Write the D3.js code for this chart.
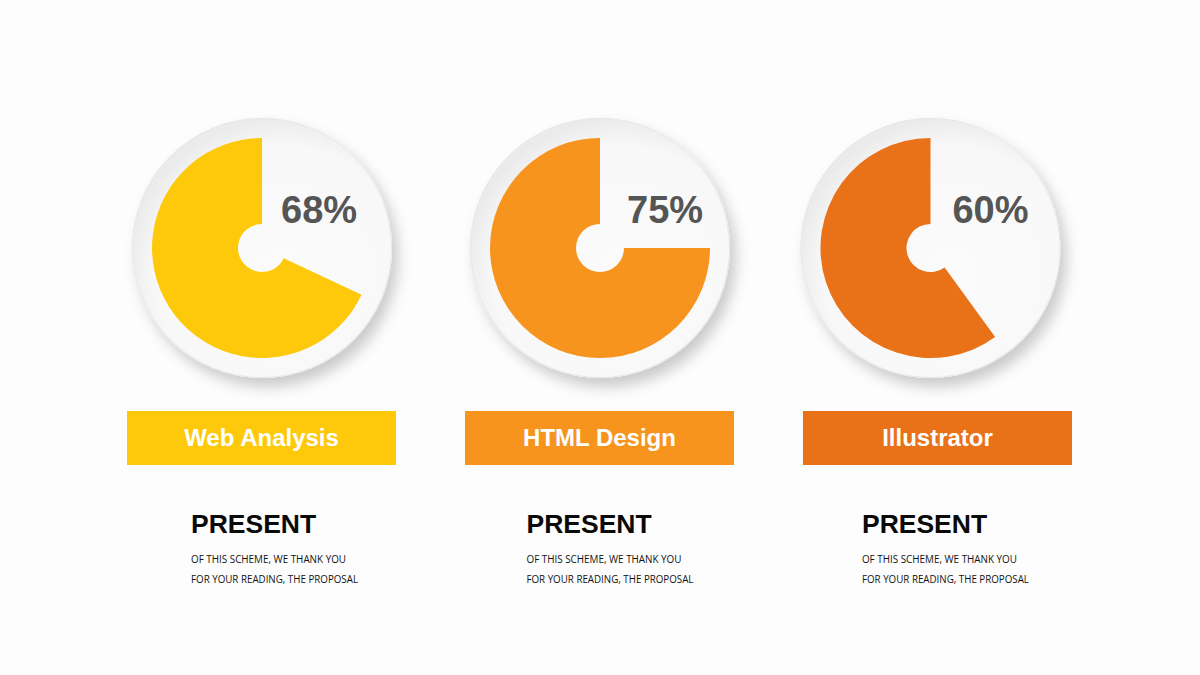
<!DOCTYPE html>
<html>
<head>
<meta charset="utf-8">
<script src="https://cdn.jsdelivr.net/npm/d3@7"></script>
<style>
html,body{margin:0;padding:0;background:#fdfdfd;}
svg{display:block;}
</style>
</head>
<body>
<svg id="chart" width="1200" height="675"></svg>
<script>
// ---- data ----
const categories = ["Web Analysis", "HTML Design", "Illustrator"];
const values = [68, 75, 60];
const colors = ["#FFC90B", "#F7941E", "#E97118"];
const headings = ["PRESENT", "PRESENT", "PRESENT"];
const lines1 = ["OF THIS SCHEME, WE THANK YOU", "OF THIS SCHEME, WE THANK YOU", "OF THIS SCHEME, WE THANK YOU"];
const lines2 = ["FOR YOUR READING, THE PROPOSAL", "FOR YOUR READING, THE PROPOSAL", "FOR YOUR READING, THE PROPOSAL"];

// ---- layout ----
const W = 1200, H = 675;
const svg = d3.select("#chart");
svg.append("rect").attr("width", W).attr("height", H).attr("fill", "#fdfdfd");

const defs = svg.append("defs");
const f = defs.append("filter").attr("id", "shadow")
  .attr("x", "-30%").attr("y", "-30%").attr("width", "160%").attr("height", "160%");
f.append("feDropShadow").attr("dx", 6).attr("dy", 9).attr("stdDeviation", 7)
  .attr("flood-color", "#000").attr("flood-opacity", 0.2);

const rg = defs.append("radialGradient").attr("id", "disc")
  .attr("cx", "58%").attr("cy", "60%").attr("r", "60%");
rg.append("stop").attr("offset", "0%").attr("stop-color", "#fbfbfb");
rg.append("stop").attr("offset", "82%").attr("stop-color", "#f8f8f8");
rg.append("stop").attr("offset", "100%").attr("stop-color", "#ebebeb");

const band = d3.scaleBand().domain(categories).range([127, 1072]).paddingInner(0.204).paddingOuter(0);
const circleShift = [0.5, 0.5, -7];
const pctShift = [19, 27, 22];
const cy = 248;
const discR = 130, outerR = 110, innerR = 24;

const angle = d3.scaleLinear().domain([0, 100]).range([0, 2 * Math.PI]);
const arc = d3.arc().innerRadius(innerR).outerRadius(outerR);

const g = svg.selectAll("g.item").data(categories).join("g").attr("class", "item");

g.each(function (cat, i) {
  const sel = d3.select(this);
  const bx = band(cat);
  const cx = bx + band.bandwidth() / 2 + circleShift[i];

  // disc
  sel.append("circle").attr("cx", cx).attr("cy", cy).attr("r", discR)
    .attr("fill", "url(#disc)").attr("filter", "url(#shadow)");
  sel.append("circle").attr("cx", cx).attr("cy", cy).attr("r", discR - 0.5)
    .attr("fill", "none").attr("stroke", "#e8e8e8").attr("stroke-width", 1);

  // value arc (counter-clockwise from 12 o'clock)
  sel.append("path")
    .attr("transform", `translate(${cx},${cy})`)
    .attr("d", arc({ startAngle: angle(100) - angle(values[i]), endAngle: angle(100) }))
    .attr("fill", colors[i]);

  // percentage
  sel.append("text")
    .attr("x", cx + pctShift[i]).attr("y", cy - 25)
    .attr("font-family", "Liberation Sans, Arial, sans-serif")
    .attr("font-weight", "bold").attr("font-size", 38)
    .attr("fill", "#555555")
    .text(values[i] + "%");

  // label box
  sel.append("rect").attr("x", bx).attr("y", 411)
    .attr("width", band.bandwidth()).attr("height", 54)
    .attr("fill", colors[i]);
  sel.append("text")
    .attr("x", bx + band.bandwidth() / 2).attr("y", 446)
    .attr("text-anchor", "middle")
    .attr("font-family", "Liberation Sans, Arial, sans-serif")
    .attr("font-weight", "bold").attr("font-size", 24)
    .attr("fill", "#ffffff")
    .text(cat);

  // description
  const tx = bx + 64 - 2.5 * i;
  sel.append("text")
    .attr("x", tx).attr("y", 533)
    .attr("font-family", "Liberation Sans, Arial, sans-serif")
    .attr("font-weight", "bold").attr("font-size", 26.5)
    .attr("fill", "#0a0a0a")
    .text(headings[i]);
  sel.append("text")
    .attr("x", tx).attr("y", 563)
    .attr("font-family", "Open Sans, sans-serif")
    .attr("font-size", 11)
    .attr("textLength", 155).attr("lengthAdjust", "spacingAndGlyphs")
    .attr("fill", "#111111")
    .text(lines1[i]);
  sel.append("text")
    .attr("x", tx).attr("y", 583)
    .attr("font-family", "Open Sans, sans-serif")
    .attr("font-size", 11)
    .attr("textLength", 167).attr("lengthAdjust", "spacingAndGlyphs")
    .attr("fill", "#111111")
    .text(lines2[i]);
});
</script>
</body>
</html>
